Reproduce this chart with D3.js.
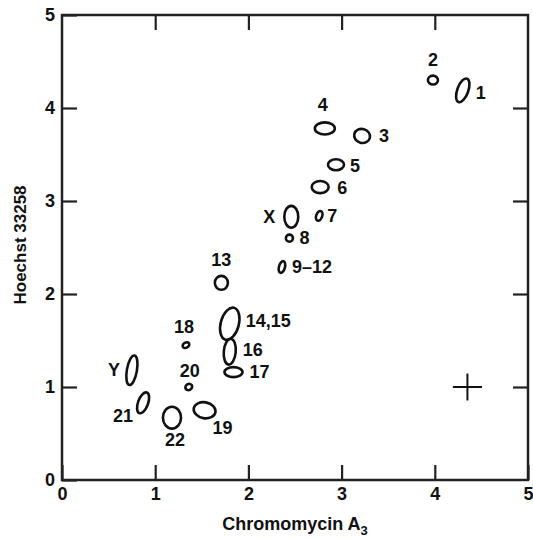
<!DOCTYPE html>
<html>
<head>
<meta charset="utf-8">
<script src="https://cdn.jsdelivr.net/npm/d3@7/dist/d3.min.js"></script>
<style>
  html, body { margin: 0; padding: 0; background: #fff; }
  svg { display: block; }
  text { font-family: "Liberation Sans", Arial, Helvetica, sans-serif; font-weight: bold; fill: #111; }
</style>
</head>
<body>
<script>
// ---- data ----
const chromosomes = ["1","2","3","4","5","6","7","8","9–12","13","14,15","16","17","18","19","20","21","22","X","Y"];
const chromomycin = [4.30,3.98,3.22,2.82,2.94,2.77,2.76,2.44,2.36,1.71,1.80,1.80,1.84,1.33,1.53,1.36,0.87,1.18,2.46,0.75];
const hoechst     = [4.19,4.30,3.70,3.78,3.39,3.15,2.84,2.60,2.29,2.12,1.68,1.38,1.16,1.45,0.75,1.00,0.83,0.67,2.83,1.18];
// half-widths of the spread ellipses (data units) and tilt (degrees)
const spreadX = [0.059,0.054,0.086,0.107,0.086,0.091,0.032,0.038,0.032,0.070,0.097,0.064,0.097,0.038,0.118,0.038,0.054,0.097,0.075,0.054];
const spreadY = [0.134,0.048,0.075,0.065,0.059,0.065,0.054,0.038,0.065,0.075,0.177,0.140,0.054,0.027,0.086,0.032,0.118,0.118,0.118,0.161];
const tilt    = [20,0,15,0,0,0,20,0,15,0,15,5,0,-30,10,-30,20,0,0,10];
// scale marker (+)
const markerX = [4.35], markerY = [1.0], markerHalfX = [0.156], markerHalfY = [0.145];
const xTicks = [0,1,2,3,4,5];
const yTicks = [0,1,2,3,4,5];

// ---- layout ----
const W = 533, H = 540;
const pLeft = 62, pRight = 528, pTop = 15, pBottom = 480;
// label offsets in px relative to ellipse centre: [dx, dy, anchor]
const labelLayout = [
  [18,3,"middle"],[0,-20,"middle"],[22,0,"middle"],[-2,-23,"middle"],[19,1,"middle"],
  [22,1,"middle"],[13,0,"middle"],[15,0,"middle"],[10,0,"start"],[0,-23,"middle"],
  [16,-3,"start"],[13,-2,"start"],[16,0,"start"],[-2,-18,"middle"],[18,18,"middle"],
  [1,-16,"middle"],[-20,13,"middle"],[3,22,"middle"],[-22,0,"middle"],[-18,0,"middle"]
];

const svg = d3.select("body").append("svg").attr("width", W).attr("height", H);
const x = d3.scaleLinear().domain([0,5]).range([pLeft,pRight]);
const y = d3.scaleLinear().domain([0,5]).range([pBottom,pTop]);
const kx = x(1) - x(0), ky = y(0) - y(1);

const tickLen = 15;
function styleAxis(g){
  g.select(".domain").remove();
  g.selectAll(".tick line").attr("stroke","#222").attr("stroke-width",2.2);
  g.selectAll(".tick text").style("font-size","18px").attr("fill","#111");
}
svg.append("g").attr("transform",`translate(${pLeft},0)`)
  .call(d3.axisLeft(y).tickValues(yTicks).tickSize(-tickLen).tickPadding(7).tickFormat(d3.format("d")))
  .call(styleAxis);
svg.append("g").attr("transform",`translate(${pRight},0)`)
  .call(d3.axisRight(y).tickValues(yTicks.slice(1,-1)).tickSize(-tickLen).tickFormat(""))
  .call(styleAxis);
svg.append("g").attr("transform",`translate(0,${pBottom})`)
  .call(d3.axisBottom(x).tickValues(xTicks).tickSize(-tickLen).tickPadding(7).tickFormat(d3.format("d")))
  .call(styleAxis);
svg.append("g").attr("transform",`translate(0,${pTop})`)
  .call(d3.axisTop(x).tickValues(xTicks.slice(1,-1)).tickSize(-tickLen).tickFormat(""))
  .call(styleAxis);

// frame
svg.append("rect").attr("x",pLeft).attr("y",pTop).attr("width",pRight-pLeft).attr("height",pBottom-pTop)
  .attr("fill","none").attr("stroke","#222").attr("stroke-width",2.5);

// axis titles
svg.append("text").attr("transform",`translate(20,245) rotate(-90)`)
  .attr("text-anchor","middle").attr("dominant-baseline","central")
  .style("font-size","17px").text("Hoechst 33258");
const xt = svg.append("text").attr("x",(pLeft+pRight)/2).attr("y",530)
  .attr("text-anchor","middle").style("font-size","18px");
xt.append("tspan").text("Chromomycin A");
xt.append("tspan").attr("dy",5).style("font-size","13px").text("3");

// ellipses
const pts = chromosomes.map((c,i)=>({c, x:chromomycin[i], y:hoechst[i], sx:spreadX[i], sy:spreadY[i], t:tilt[i], lab:labelLayout[i]}));
const g = svg.append("g");
g.selectAll("ellipse").data(pts).join("ellipse")
  .attr("transform", d=>`translate(${x(d.x)},${y(d.y)}) rotate(${d.t})`)
  .attr("rx", d=>d.sx*kx).attr("ry", d=>d.sy*ky)
  .attr("fill","none").attr("stroke","#111").attr("stroke-width",2.6);
g.selectAll("text.lab").data(pts).join("text").attr("class","lab")
  .attr("x", d=>x(d.x)+d.lab[0]).attr("y", d=>y(d.y)+d.lab[1])
  .attr("text-anchor", d=>d.lab[2]).attr("dominant-baseline","central")
  .style("font-size","18px").text(d=>d.c);

// scale marker
const m = markerX.map((v,i)=>({x:v,y:markerY[i],hx:markerHalfX[i],hy:markerHalfY[i]}));
svg.selectAll("line.mx").data(m).join("line").attr("class","mx")
  .attr("x1",d=>x(d.x-d.hx)).attr("x2",d=>x(d.x+d.hx)).attr("y1",d=>y(d.y)).attr("y2",d=>y(d.y))
  .attr("stroke","#111").attr("stroke-width",2);
svg.selectAll("line.my").data(m).join("line").attr("class","my")
  .attr("x1",d=>x(d.x)).attr("x2",d=>x(d.x)).attr("y1",d=>y(d.y-d.hy)).attr("y2",d=>y(d.y+d.hy))
  .attr("stroke","#111").attr("stroke-width",2);
</script>
</body>
</html>
